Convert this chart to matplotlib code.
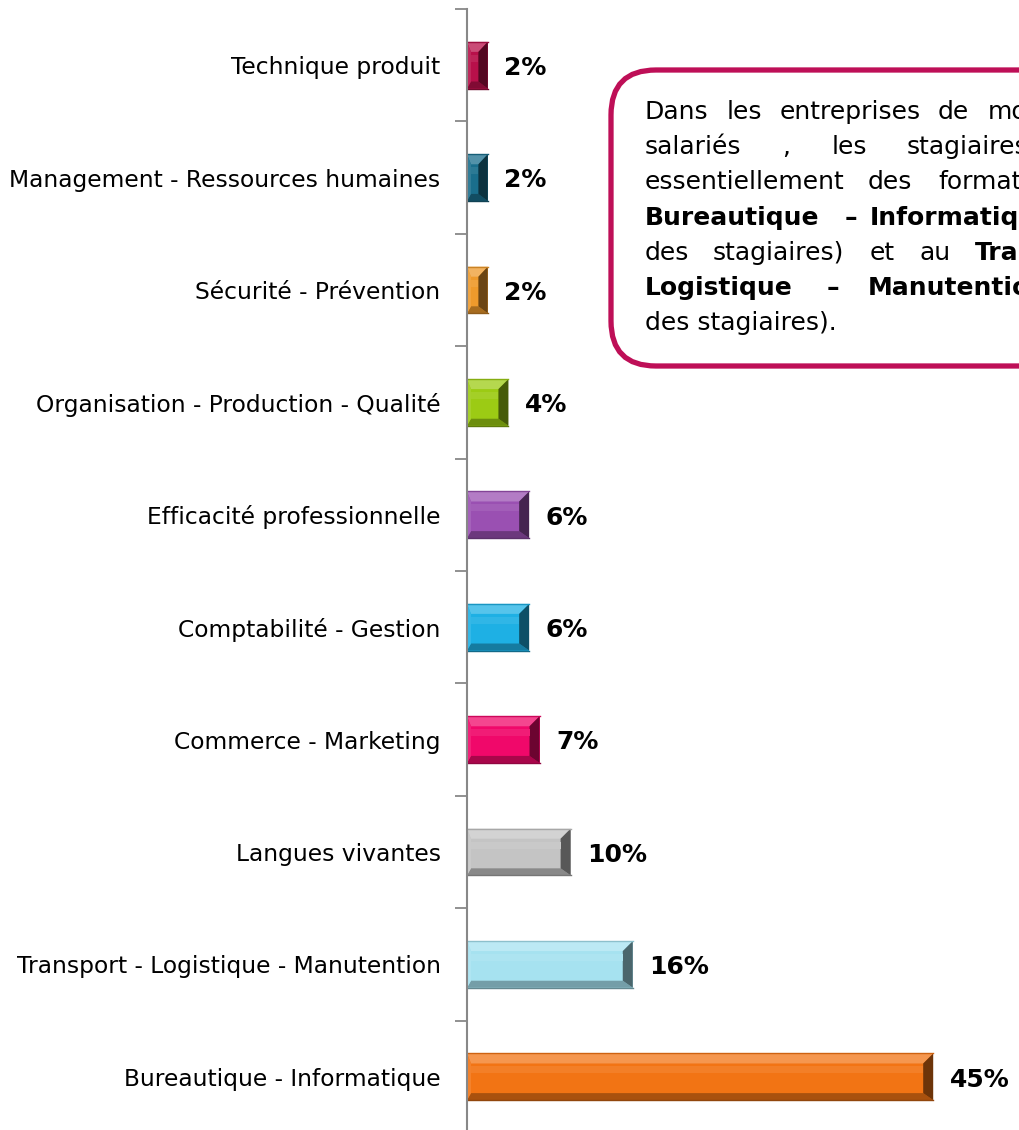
import numpy as np
import matplotlib.pyplot as plt
from matplotlib.patches import Polygon, FancyBboxPatch
from matplotlib.colors import to_rgb

# data (top to bottom as shown)
categories = [
    "Technique produit",
    "Management - Ressources humaines",
    "Sécurité - Prévention",
    "Organisation - Production - Qualité",
    "Efficacité professionnelle",
    "Comptabilité - Gestion",
    "Commerce - Marketing",
    "Langues vivantes",
    "Transport - Logistique - Manutention",
    "Bureautique - Informatique",
]
values = [2, 2, 2, 4, 6, 6, 7, 10, 16, 45]
value_labels = ["2%", "2%", "2%", "4%", "6%", "6%", "7%", "10%", "16%", "45%"]
colors = ["#B8104A", "#1A6E8C", "#EE9A2C", "#9CCB14", "#9A50B2",
          "#1EB0E4", "#F0086A", "#C4C4C4", "#A6E2F0", "#F27414"]

W, H = 1020, 1130
fig = plt.figure(figsize=(W / 100, H / 100), dpi=100)

# axes placed so that category bands match the reference
ax_left, ax_top = 467, 9
band = 112.4
ax_h = band * len(categories)
px_per_unit = 10.36
ax_w = 50 * px_per_unit
ax = fig.add_axes([ax_left / W, 1 - (ax_top + ax_h) / H, ax_w / W, ax_h / H])

n = len(categories)
ypos = np.arange(n)[::-1]
bars = ax.barh(ypos, values, height=0.415, color=colors, edgecolor="none")
ax.set_xlim(0, 50)
ax.set_ylim(-0.5, n - 0.5)


def mix(c, other, t):
    c = np.array(to_rgb(c))
    return tuple(c * (1 - t) + np.array(other) * t)


# bevel look on every bar
py = band  # pixels per y unit
for b, col in zip(bars, colors):
    x0, y0 = b.get_x(), b.get_y()
    x1, y1 = x0 + b.get_width(), y0 + b.get_height()
    wpx = b.get_width() * px_per_unit
    dr = min(10, wpx * 0.45) / px_per_unit
    dl = min(4, wpx * 0.2) / px_per_unit
    dt = 10 / py
    db = 7 / py
    white, black = (1, 1, 1), (0, 0, 0)
    polys = [
        ([(x0, y1), (x1, y1), (x1 - dr, y1 - dt), (x0 + dl, y1 - dt)], mix(col, white, 0.25)),
        ([(x0, y0), (x1, y0), (x1 - dr, y0 + db), (x0 + dl, y0 + db)], mix(col, black, 0.3)),
        ([(x1, y0), (x1, y1), (x1 - dr, y1 - dt), (x1 - dr, y0 + db)], mix(col, black, 0.55)),
        ([(x0, y0), (x0, y1), (x0 + dl, y1 - dt), (x0 + dl, y0 + db)], mix(col, white, 0.1)),
    ]
    for pts, c in polys:
        ax.add_patch(Polygon(pts, closed=True, facecolor=c, edgecolor="none"))
    # soft highlight band on the face
    ax.add_patch(Polygon([(x0 + dl, y1 - dt - 3 / py), (x1 - dr, y1 - dt - 3 / py),
                          (x1 - dr, y1 - dt - 10 / py), (x0 + dl, y1 - dt - 10 / py)],
                         closed=True, facecolor=mix(col, white, 0.08), edgecolor="none"))
    ax.plot([x0, x1], [y1, y1], color=mix(col, black, 0.15), lw=1)
    ax.plot([x0, x1], [y0, y0], color=mix(col, black, 0.4), lw=1)

for b, lab in zip(bars, value_labels):
    ax.annotate(lab, (b.get_width(), b.get_y() + b.get_height() / 2),
                xytext=(12, -2), textcoords="offset points",
                ha="left", va="center", fontsize=18, fontweight="bold")

ax.set_yticks(ypos)
ax.set_yticklabels(categories, fontsize=16.8)
ax.tick_params(axis="y", which="major", length=0, pad=19)
ax.set_yticks(np.arange(n) + 0.5, minor=True)
ax.tick_params(axis="y", which="minor", length=9, width=1.3, color="#888888")
ax.set_xticks([])
for s in ["top", "right", "bottom"]:
    ax.spines[s].set_visible(False)
ax.spines["left"].set_color("#888888")
ax.spines["left"].set_linewidth(1.5)

# text box (pixel coordinates overlay)
ov = fig.add_axes([0, 0, 1, 1])
ov.set_xlim(0, W)
ov.set_ylim(H, 0)
ov.axis("off")
ov.add_patch(FancyBboxPatch((611, 70), 480, 296, boxstyle="round,pad=0,rounding_size=45",
                            facecolor="white", edgecolor="#BE0F57", lw=3.8))

box_lines = [
    [("Dans", 645, False), ("les", 727, False), ("entreprises", 780, False),
     ("de", 938, False), ("moins", 988, False)],
    [("salariés", 645, False), (",", 782, False), ("les", 832, False), ("stagiaires", 907, False)],
    [("essentiellement", 645, False), ("des", 868, False), ("formations", 938, False)],
    [("Bureautique", 645, True), ("–", 845, True), ("Informatique", 870, True)],
    [("des", 645, False), ("stagiaires)", 713, False), ("et", 870, False),
     ("au", 920, False), ("Transport", 975, True)],
    [("Logistique", 645, True), ("–", 827, True), ("Manutention", 868, True)],
    [("des stagiaires).", 645, False)],
]
for i, line in enumerate(box_lines):
    yb = 112 + i * 35.2
    for word, xw, bold in line:
        ov.text(xw, yb, word, ha="left", va="center", fontsize=18,
                fontweight="bold" if bold else "normal", clip_on=True)

fig.savefig("out.png", dpi=100)
